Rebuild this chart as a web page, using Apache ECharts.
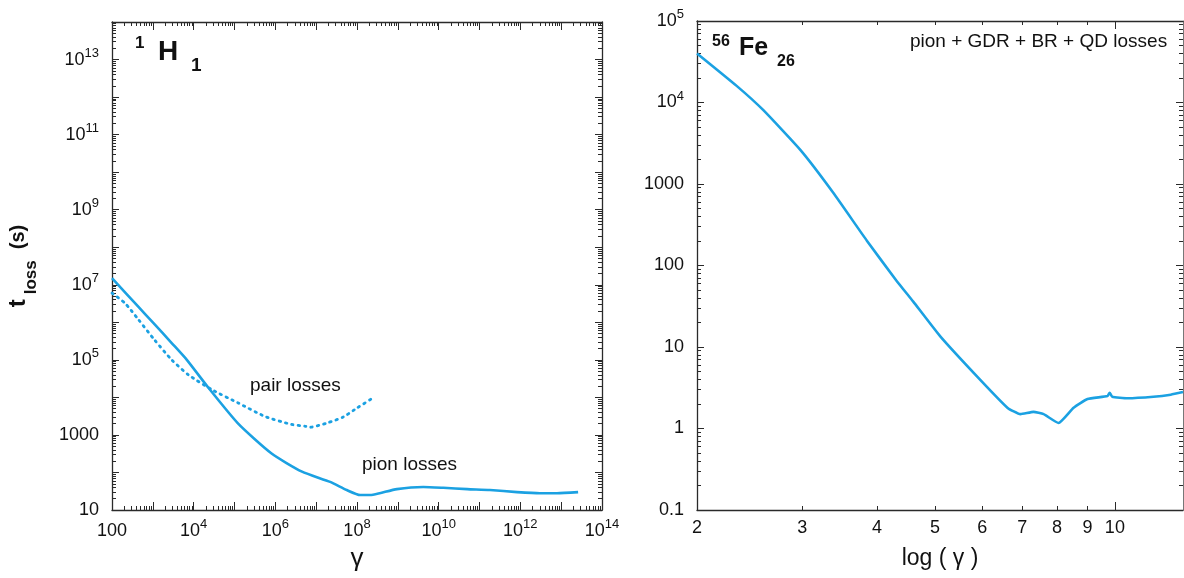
<!DOCTYPE html>
<html><head><meta charset="utf-8">
<script src="https://cdn.jsdelivr.net/npm/echarts@6/dist/echarts.min.js"></script>
<style>html,body{margin:0;padding:0;background:#fff}#c{width:1184px;height:578px}</style>
</head><body><div id="c"></div>
<script>
// ---------- data ----------
// Left panel: proton (1H1), loss time vs Lorentz factor gamma
const protonPionGamma = [1e2, 4.4e2, 1e3, 2.9e3, 6.8e3, 2.3e4, 1.23e5, 8.1e5, 4.5e6, 2.2e7, 5.6e7, 1.2e8, 2.1e8, 3.6e8, 9.5e8, 4.2e9, 1.3e10, 5e10, 1.8e11, 8.3e11, 3e12, 7.9e12, 2.6e13];
const protonPionLoss  = [1.5e7, 2.6e6, 1.0e6, 2.8e5, 1.0e5, 1.8e4, 2.0e3, 320, 105, 56, 34, 25, 25, 28, 36, 41, 39, 36, 34, 30, 28, 28, 30];
const protonPairGamma = [1e2, 2.1e2, 4.4e2, 1.1e3, 2.9e3, 7.4e3, 2.8e4, 1.23e5, 5.6e5, 2.5e6, 5.4e6, 7.1e6, 1.9e7, 4.6e7, 1e8, 2.5e8];
const protonPairLoss  = [6e6, 3.2e6, 1.2e6, 3.4e5, 1e5, 4e4, 1.6e4, 7.1e3, 3.1e3, 1.9e3, 1.7e3, 1.6e3, 2.1e3, 3e3, 5.2e3, 9.8e3];
// Right panel: iron (56Fe26), loss time vs log(gamma)
const ironLogGamma = [2.0, 2.33, 2.58, 2.98, 3.38, 3.85, 4.3, 4.6, 5.1, 5.89, 6.61, 6.95, 7.31, 7.6, 8.05, 8.53, 9.0, 9.72, 9.8, 9.9, 10.5, 11.6, 12.4, 13.0];
const ironLoss     = [4e4, 1.6e4, 8.1e3, 2.6e3, 780, 200, 67, 36, 13.6, 4.3, 1.8, 1.5, 1.6, 1.5, 1.17, 1.8, 2.3, 2.5, 2.75, 2.45, 2.35, 2.45, 2.6, 2.8];

// ---------- ticks / tick labels ----------
const leftXLabelExps  = [2, 4, 6, 8, 10, 12, 14];
const leftYLabelExps  = [1, 3, 5, 7, 9, 11, 13];
const rightYLabelExps = [-1, 0, 1, 2, 3, 4, 5];
const rightXTickLabels = [2, 3, 4, 5, 6, 7, 8, 9, 10];
const rightXMinorTicks = [3, 4, 5, 6, 7, 8, 9];
const rightXMajorTicks = [10];

function decades(e0, e1) { const a = []; for (let e = e0; e <= e1; e++) a.push(Math.pow(10, e)); return a; }
function minors(e0, e1) { const a = []; for (let e = e0; e < e1; e++) for (let m = 2; m <= 9; m++) a.push(+(m * Math.pow(10, e)).toPrecision(3)); return a; }
function expVals(exps) { return exps.map(e => Math.pow(10, e)); }

const FONT = 'Liberation Sans, Arial, Helvetica, sans-serif';
const AXC = '#2a2a2a';
const LINE = '#1ba1e2';
const TXT = '#111';

const richLab = {
  b: { fontSize: 18, lineHeight: 26, fontFamily: FONT, color: TXT },
  sup: { fontSize: 13, lineHeight: 14, verticalAlign: 'top', fontFamily: FONT, color: TXT }
};
function powLabel(v) {
  const e = Math.round(Math.log10(v));
  if (e === -1) return '{b|0.1}';
  if (e >= 0 && e <= 3) return '{b|' + Math.pow(10, e) + '}';
  return '{b|10}{sup|' + e + '}';
}

function axis(grid, pos, min, max, ticks, len, extra) {
  const a = {
    type: 'log', logBase: 10, gridIndex: grid, position: pos, min: min, max: max,
    axisLine: { show: true, onZero: false, lineStyle: { color: AXC, width: 1.3 } },
    axisTick: { show: true, inside: true, length: len, customValues: ticks, lineStyle: { color: AXC, width: 1 } },
    axisLabel: { show: false },
    splitLine: { show: false }, minorTick: { show: false }, minorSplitLine: { show: false },
    axisPointer: { show: false }, silent: true
  };
  return Object.assign(a, extra || {});
}

const L = { xmin: 1e2, xmax: 1e14, ymin: 10, ymax: 1e14 };
const R = { xmin: 2, xmax: 13, ymin: 0.1, ymax: 1e5 };

const xAxes = [
  // 0 left bottom major (labels)
  axis(0, 'bottom', L.xmin, L.xmax, decades(2, 14), 8, {
    axisLabel: { show: true, customValues: expVals(leftXLabelExps), formatter: powLabel, rich: richLab, margin: 8, hideOverlap: false, showMinLabel: true, showMaxLabel: true },
    name: 'γ', nameLocation: 'middle', nameGap: 36,
    nameTextStyle: { fontSize: 26, fontFamily: FONT, color: TXT }
  }),
  axis(0, 'bottom', L.xmin, L.xmax, minors(2, 14), 4, { axisLine: { show: false } }),
  axis(0, 'top', L.xmin, L.xmax, decades(2, 14), 8),
  axis(0, 'top', L.xmin, L.xmax, minors(2, 14), 4, { axisLine: { show: false } }),
  // 4 right bottom (labels)
  axis(1, 'bottom', R.xmin, R.xmax, rightXMinorTicks, 4, {
    axisLabel: { show: true, customValues: rightXTickLabels, formatter: v => '{b|' + Math.round(v) + '}', rich: richLab, margin: 5, hideOverlap: false },
    name: 'log ( γ )', nameLocation: 'middle', nameGap: 37,
    nameTextStyle: { fontSize: 23, fontFamily: FONT, color: TXT }
  }),
  axis(1, 'bottom', R.xmin, R.xmax, rightXMajorTicks, 8, { axisLine: { show: false } }),
  axis(1, 'top', R.xmin, R.xmax, rightXMinorTicks, 4),
  axis(1, 'top', R.xmin, R.xmax, rightXMajorTicks, 8, { axisLine: { show: false } })
];

const yAxes = [
  // 0 left panel left major (labels)
  axis(0, 'left', L.ymin, L.ymax, decades(1, 14), 7, {
    axisLabel: { show: true, customValues: expVals(leftYLabelExps), formatter: powLabel, rich: richLab, margin: 13, hideOverlap: false },
    name: '{t|t}{sub|loss}{s|  (s)}', nameLocation: 'middle', nameRotate: 90, nameGap: 72,
    nameTextStyle: {
      fontFamily: FONT, fontWeight: 'bold', color: TXT,
      rich: {
        t: { fontSize: 24, fontWeight: 'bold', lineHeight: 44, fontFamily: FONT, color: TXT, padding: [0, 5, 0, 0] },
        sub: { fontSize: 17, fontWeight: 'bold', lineHeight: 17, verticalAlign: 'bottom', fontFamily: FONT, color: TXT },
        s: { fontSize: 20, fontWeight: 'bold', lineHeight: 44, fontFamily: FONT, color: TXT }
      }
    }
  }),
  axis(0, 'left', L.ymin, L.ymax, minors(1, 14), 4, { axisLine: { show: false } }),
  axis(0, 'right', L.ymin, L.ymax, decades(1, 14), 7),
  axis(0, 'right', L.ymin, L.ymax, minors(1, 14), 4, { axisLine: { show: false } }),
  // 4 right panel left major (labels)
  axis(1, 'left', R.ymin, R.ymax, decades(-1, 5), 7, {
    axisLabel: { show: true, customValues: expVals(rightYLabelExps), formatter: powLabel, rich: richLab, margin: 13, hideOverlap: false }
  }),
  axis(1, 'left', R.ymin, R.ymax, minors(-1, 5), 4, { axisLine: { show: false } }),
  axis(1, 'right', R.ymin, R.ymax, decades(-1, 5), 7, { axisLine: { show: true, onZero: false, lineStyle: { color: '#777', width: 1 } } }),
  axis(1, 'right', R.ymin, R.ymax, minors(-1, 5), 4, { axisLine: { show: false } })
];

function zip(a, b) { return a.map((v, i) => [v, b[i]]); }

function txt(x, y, text, size, bold) {
  return { type: 'text', x: x, y: y, silent: true,
    style: { text: text, fill: TXT, fontSize: size, fontWeight: bold ? 'bold' : 'normal', fontFamily: FONT, align: 'left', verticalAlign: 'middle' } };
}

const option = {
  animation: false,
  backgroundColor: '#fff',
  grid: [
    { left: 112, top: 22, width: 490, height: 488 },
    { left: 697, top: 21, width: 486, height: 489 }
  ],
  xAxis: xAxes,
  yAxis: yAxes,
  series: [
    { name: 'pion losses', type: 'line', xAxisIndex: 0, yAxisIndex: 0, data: zip(protonPionGamma, protonPionLoss),
      symbol: 'none', smooth: 0.2, lineStyle: { color: LINE, width: 2.6, join: 'round' }, clip: true },
    { name: 'pair losses', type: 'line', xAxisIndex: 0, yAxisIndex: 0, data: zip(protonPairGamma, protonPairLoss),
      symbol: 'none', smooth: 0.2, lineStyle: { color: LINE, width: 2.8, type: [1.5, 5], cap: 'round' }, clip: true },
    { name: 'pion + GDR + BR + QD losses', type: 'line', xAxisIndex: 4, yAxisIndex: 4, data: zip(ironLogGamma, ironLoss),
      symbol: 'none', smooth: 0.15, lineStyle: { color: LINE, width: 2.6, join: 'round' }, clip: true }
  ],
  graphic: [
    txt(135, 43, '1', 17, true),
    txt(158, 52, 'H', 28, true),
    txt(191, 66, '1', 19, true),
    txt(712, 41.5, '56', 16, true),
    txt(739, 48, 'Fe', 25, true),
    txt(777, 62, '26', 16, true),
    txt(910, 42, 'pion + GDR + BR + QD losses', 19, false),
    txt(250, 386, 'pair losses', 19, false),
    txt(362, 465, 'pion losses', 19, false)
  ]
};

const chart = echarts.init(document.getElementById('c'), null, { renderer: 'canvas' });
chart.setOption(option);
</script>
</body></html>
